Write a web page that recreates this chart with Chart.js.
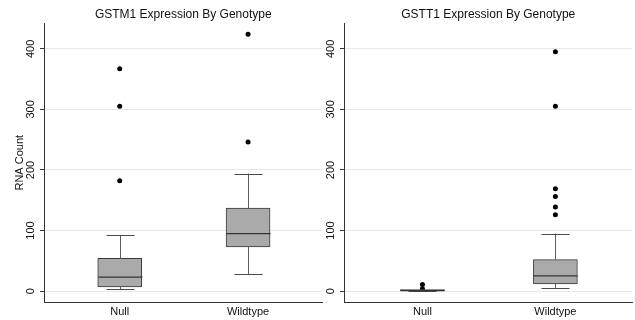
<!DOCTYPE html>
<html><head><meta charset="utf-8">
<script src="https://cdn.jsdelivr.net/npm/chart.js@4/dist/chart.umd.min.js"></script>
<style>
html,body{margin:0;padding:0;background:#fff;}
#wrap{position:relative;width:635px;height:320px;background:#fff;overflow:hidden;}
.c{position:absolute;top:0;height:320px;}
canvas{display:block;}
</style></head><body>
<div id="wrap">
<div class="c" style="left:0;width:325px"><canvas id="left" width="325" height="320"></canvas></div>
<div class="c" style="left:325px;width:310px"><canvas id="right" width="310" height="320"></canvas></div>
</div>
<script>
// ---- data ----
const categories = ['Null', 'Wildtype'];
const yTickValues = [0, 100, 200, 300, 400];

// GSTM1
const gstm1Min    = [3, 28];
const gstm1Q1     = [7, 73];
const gstm1Median = [23, 95];
const gstm1Q3     = [54, 137];
const gstm1Max    = [92, 194];
const gstm1OutliersNull     = [182, 305, 367];
const gstm1OutliersWildtype = [246, 424];

// GSTT1
const gsttMin    = [0, 4.5];
const gsttQ1     = [0, 12];
const gsttMedian = [1, 25];
const gsttQ3     = [2.5, 52];
const gsttMax    = [2.5, 95];
const gsttOutliersNull     = [4, 11];
const gsttOutliersWildtype = [126, 139, 156, 169, 305, 395];

const FONT = "'Liberation Sans', Arial, Helvetica, sans-serif";

const boxPlugin = {
  id: 'boxWhisk',
  afterDatasetsDraw(chart, args, opts) {
    const ctx = chart.ctx;
    const x = chart.scales.x, y = chart.scales.y;
    const s = opts.stats;
    if (!s) return;
    ctx.save();
    s.min.forEach((_, i) => {
      const px = Math.round(x.getPixelForValue(i + 1)) + 0.5;
      const cap = 14;
      const yMin = y.getPixelForValue(s.min[i]);
      const yQ1 = y.getPixelForValue(s.q1[i]);
      const yQ3 = y.getPixelForValue(s.q3[i]);
      const yMax = y.getPixelForValue(s.max[i]);
      const yMed = y.getPixelForValue(s.median[i]);
      ctx.lineWidth = 1;
      ctx.strokeStyle = '#5e5e5e';
      ctx.beginPath();
      ctx.moveTo(px, yQ1); ctx.lineTo(px, yMin);
      ctx.moveTo(px, yQ3); ctx.lineTo(px, yMax);
      ctx.stroke();
      ctx.strokeStyle = '#4a4a4a';
      ctx.beginPath();
      ctx.moveTo(px - cap, Math.round(yMin) + 0.5); ctx.lineTo(px + cap, Math.round(yMin) + 0.5);
      ctx.moveTo(px - cap, Math.round(yMax) + 0.5); ctx.lineTo(px + cap, Math.round(yMax) + 0.5);
      ctx.stroke();
      ctx.strokeStyle = '#333333';
      ctx.lineWidth = 1.3;
      ctx.beginPath();
      ctx.moveTo(px - 22, yMed); ctx.lineTo(px + 22, yMed);
      ctx.stroke();
    });
    ctx.restore();
  }
};

function makeChart(id, title, stats, outNull, outWild, yTitle, yWidth, padRight) {
  const boxData = categories.map((c, i) => ({ x: i + 1, y: [stats.q1[i], stats.q3[i]] }));
  const outData = [];
  outNull.forEach(v => outData.push({ x: 1, y: v }));
  outWild.forEach(v => outData.push({ x: 2, y: v }));
  return new Chart(document.getElementById(id), {
    type: 'bar',
    data: {
      datasets: [
        {
          type: 'bar',
          data: boxData,
          backgroundColor: '#aaaaaa',
          borderColor: '#3a3a3a',
          borderWidth: 1,
          borderSkipped: false,
          barThickness: 44
        },
        {
          type: 'scatter',
          data: outData,
          showLine: false,
          pointRadius: 2.5,
          pointBackgroundColor: '#000',
          pointBorderWidth: 0,
          pointHoverRadius: 2.5
        }
      ]
    },
    options: {
      responsive: false,
      animation: false,
      devicePixelRatio: 1,
      layout: { padding: { left: 0, right: padRight, top: 0, bottom: 0 } },
      plugins: {
        legend: { display: false },
        tooltip: { enabled: false },
        title: {
          display: true,
          text: title,
          fullSize: false,
          color: '#111',
          font: { family: FONT, size: 12, weight: 'normal' },
          padding: { top: 7, bottom: 2 }
        },
        boxWhisk: { stats: stats }
      },
      scales: {
        x: {
          type: 'linear',
          offset: false,
          min: 0.41,
          max: 2.58,
          grid: { display: false, drawTicks: false, offset: false },
          border: { display: true, color: '#333', width: 1 },
          afterBuildTicks: (sc) => { sc.ticks = categories.map((c, i) => ({ value: i + 1 })); },
          afterFit: (sc) => { sc.height = 18; },
          ticks: {
            color: '#111',
            font: { family: FONT, size: 11 },
            padding: 3,
            autoSkip: false,
            maxRotation: 0,
            callback: (v) => categories[Math.round(v) - 1] || ''
          }
        },
        y: {
          type: 'linear',
          min: -18,
          max: 442,
          afterBuildTicks: (sc) => { sc.ticks = yTickValues.map(v => ({ value: v })); },
          afterFit: (sc) => { sc.width = yWidth; },
          grid: { color: '#e8e8e8', tickColor: '#333', tickLength: 4, drawTicks: true },
          border: { display: true, color: '#333', width: 1 },
          ticks: {
            color: '#111',
            font: { family: FONT, size: 11 },
            padding: 0,
            minRotation: 90,
            maxRotation: 90,
            crossAlign: 'center'
          },
          title: {
            display: !!yTitle,
            text: yTitle || '',
            color: '#111',
            font: { family: FONT, size: 11 },
            padding: { top: 13.4, bottom: 0 }
          }
        }
      }
    },
    plugins: [boxPlugin]
  });
}

makeChart('left', 'GSTM1 Expression By Genotype',
  { min: gstm1Min, q1: gstm1Q1, median: gstm1Median, q3: gstm1Q3, max: gstm1Max },
  gstm1OutliersNull, gstm1OutliersWildtype, 'RNA Count', 44, 2);
makeChart('right', 'GSTT1 Expression By Genotype',
  { min: gsttMin, q1: gsttQ1, median: gsttMedian, q3: gsttQ3, max: gsttMax },
  gsttOutliersNull, gsttOutliersWildtype, null, 19, 1);
</script>
</body></html>
